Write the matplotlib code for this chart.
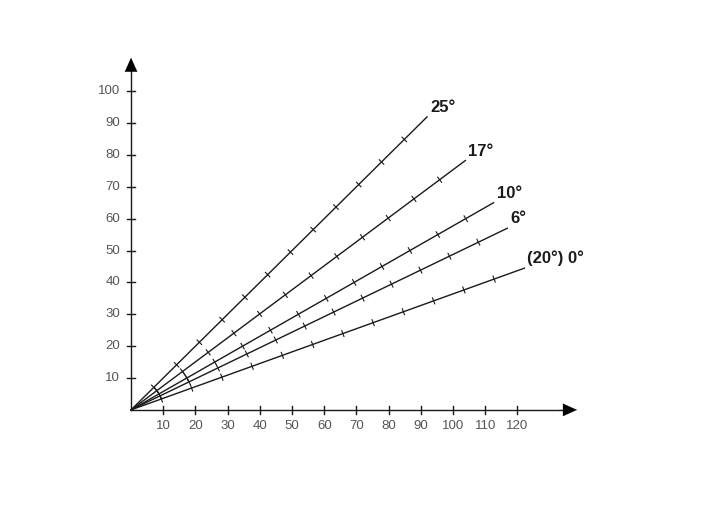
import numpy as np
import matplotlib
matplotlib.use("Agg")
import matplotlib.pyplot as plt

# ---- data ----
label_names = ["25°", "17°", "10°", "6°", "(20°) 0°"]
line_angles_deg = [45, 37, 30, 26, 20]   # direction of each line (label + 20°)
line_length = 130
tick_distances = [10, 20, 30, 40, 50, 60, 70, 80, 90, 100, 110, 120]
x_ticks = [10, 20, 30, 40, 50, 60, 70, 80, 90, 100, 110, 120]
y_ticks = [10, 20, 30, 40, 50, 60, 70, 80, 90, 100]
arc_r10_angles = [20, 45]
arc_r20_angles = [26, 37]

plt.rcParams['font.family'] = ['Liberation Sans', 'DejaVu Sans']

fig = plt.figure(figsize=(7.2, 5.09), dpi=100)
ax = fig.add_axes([0, 0, 1, 1])
ax.set_xlim(-40.7, 182.9)
ax.set_ylim(-31.1, 128.6)
ax.axis("off")

lw = 1.0
col = "#1a1a1a"

# axes with arrows
ax.plot([0, 136], [0, 0], color=col, lw=lw)
ax.plot([0, 0], [0, 107], color=col, lw=lw)
ax.annotate("", xy=(138.5, 0), xytext=(133, 0),
            arrowprops=dict(arrowstyle="-|>,head_length=1.0,head_width=0.45", color="black", lw=0.1,
                            shrinkA=0, shrinkB=0), annotation_clip=False)
ax.annotate("", xy=(0, 110.5), xytext=(0, 105),
            arrowprops=dict(arrowstyle="-|>,head_length=1.0,head_width=0.45", color="black", lw=0.1,
                            shrinkA=0, shrinkB=0), annotation_clip=False)

# axis ticks and labels
for xv in x_ticks:
    ax.plot([xv, xv], [-1.2, 1.2], color=col, lw=lw)
    ax.text(xv, -5.0, str(xv), ha="center", va="center", fontsize=9.5, color="#555555")
for yv in y_ticks:
    ax.plot([-1.2, 1.2], [yv, yv], color=col, lw=lw)
    ax.text(-3.4, yv, str(yv), ha="right", va="center", fontsize=9.5, color="#555555")

# lines with cross ticks
for name, ang in zip(label_names, line_angles_deg):
    t = np.deg2rad(ang)
    ux, uy = np.cos(t), np.sin(t)
    ax.plot([0, line_length * ux], [0, line_length * uy], color=col, lw=lw)
    px, py = -uy, ux
    for d in tick_distances:
        cx, cy = d * ux, d * uy
        ax.plot([cx - 1.0 * px, cx + 1.0 * px], [cy - 1.0 * py, cy + 1.0 * py], color=col, lw=0.8)
    ax.annotate(name, xy=(line_length * ux, line_length * uy), xytext=(3, 2),
                textcoords="offset pixels", ha="left", va="bottom",
                fontsize=12, fontweight="bold", color="#1a1a1a")

# arcs near origin
for r, (a0, a1) in [(10, arc_r10_angles), (20, arc_r20_angles)]:
    th = np.deg2rad(np.linspace(a0, a1, 50))
    ax.plot(r * np.cos(th), r * np.sin(th), color=col, lw=0.8)

fig.savefig("out.png", dpi=100)
